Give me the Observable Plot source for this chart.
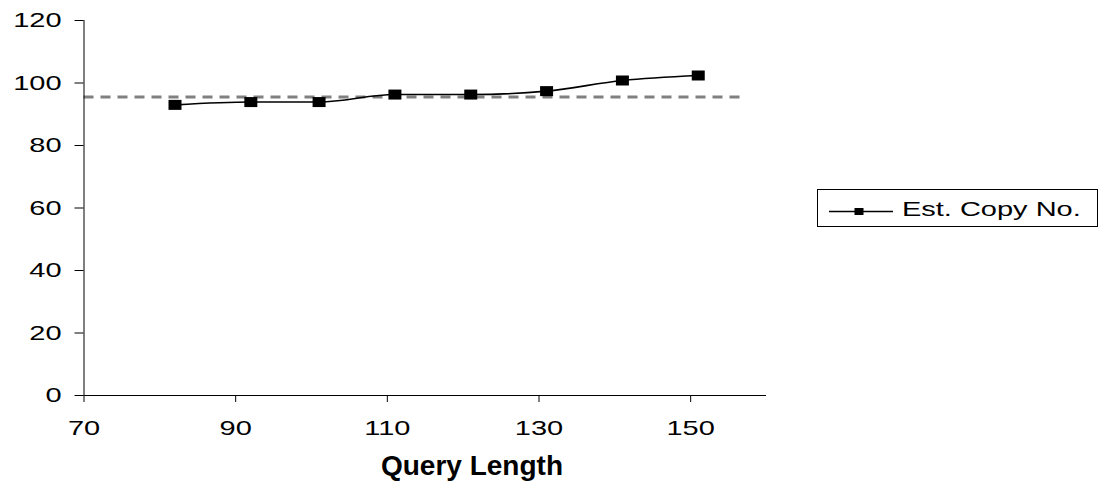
<!DOCTYPE html>
<html><head><meta charset="utf-8">
<script src="https://cdn.jsdelivr.net/npm/d3@7"></script>
<script src="https://cdn.jsdelivr.net/npm/@observablehq/plot@0.6"></script>
<style>body{margin:0;background:#fff} #chart{width:1104px;height:487px}</style>
</head><body><div id="chart"></div>
<script>
const queryLength = [82, 92, 101, 111, 121, 131, 141, 151];
const estCopyNo = [93.0, 93.9, 93.9, 96.3, 96.3, 97.4, 100.8, 102.4];
const referenceLevel = [95.5];
const referenceSpan = [70, 157];
const xTicks = [70, 90, 110, 130, 150];
const yTicks = [0, 20, 40, 60, 80, 100, 120];
const seriesName = "Est. Copy No.";
const xLabel = "Query Length";

const data = queryLength.map((x, i) => ({x, y: estCopyNo[i]}));
const rectSymbol = {draw(ctx) { ctx.rect(-6.5, -5, 13, 10); }};
const STRETCH = 1.38;

const plot = Plot.plot({
  width: 1104, height: 487,
  marginLeft: 83.5, marginRight: 338, marginTop: 20, marginBottom: 92,
  style: {fontFamily: "'Liberation Sans', Arial, sans-serif", fontSize: "21px", background: "#fff", color: "#000"},
  x: {domain: [70, 160]},
  y: {domain: [0, 120]},
  marks: [
    Plot.ruleY(referenceLevel, {x1: referenceSpan[0], x2: referenceSpan[1], stroke: "#808080", strokeWidth: 3, strokeDasharray: "10,7"}),
    Plot.line(data, {x: "x", y: "y", curve: "monotone-x", stroke: "#000", strokeWidth: 1.6}),
    Plot.dot(data, {x: "x", y: "y", symbol: rectSymbol, fill: "#000", stroke: "none"}),
    Plot.axisX({ticks: xTicks, tickSize: 7, tickPadding: 18, fontSize: 21, label: null, stroke: "#000"}),
    Plot.axisY({ticks: yTicks, tickSize: 9, tickPadding: 13.5, fontSize: 21, label: null, stroke: "#000"}),
    Plot.ruleX([70], {stroke: "#000"}),
    Plot.ruleY([0], {stroke: "#000"})
  ]
});

const svg = d3.select(plot);
svg.selectAll('g[aria-label="x-axis tick label"] text, g[aria-label="y-axis tick label"] text').each(function() {
  const t = this.getAttribute("transform") || "";
  this.setAttribute("transform", t + ` scale(${STRETCH},1)`);
});

svg.append("text")
  .attr("x", 472).attr("y", 475)
  .attr("text-anchor", "middle")
  .attr("font-weight", "bold").attr("font-size", 28)
  .attr("fill", "#000")
  .text(xLabel);

const lg = svg.append("g");
lg.append("rect").attr("x", 817.5).attr("y", 189.5).attr("width", 280).attr("height", 37)
  .attr("fill", "#fff").attr("stroke", "#000").attr("stroke-width", 1);
lg.append("line").attr("x1", 829).attr("x2", 893).attr("y1", 211.5).attr("y2", 211.5)
  .attr("stroke", "#000").attr("stroke-width", 1.6);
lg.append("rect").attr("x", 854.5).attr("y", 208).attr("width", 9).attr("height", 7).attr("fill", "#000");
lg.append("text").attr("transform", `translate(902,215.7) scale(${STRETCH},1)`)
  .attr("text-anchor", "start")
  .attr("font-size", 21).attr("fill", "#000").text(seriesName);

document.getElementById("chart").appendChild(plot);
</script>
</body></html>
